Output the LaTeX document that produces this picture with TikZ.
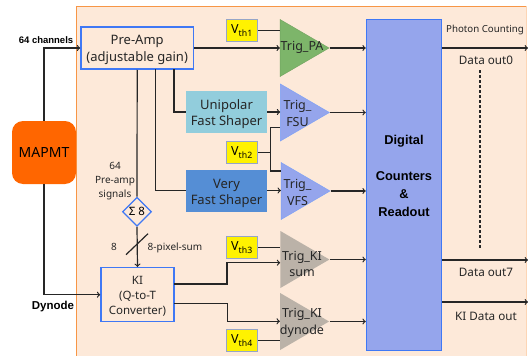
\documentclass[tikz,border=0pt]{standalone}
\usepackage{fontspec}
\setmainfont{Noto Sans}
\newfontfamily\labelbold{Liberation Sans}
\usetikzlibrary{shapes.geometric}

\definecolor{panelbg}{HTML}{FDE9D9}
\definecolor{panelline}{HTML}{F79646}
\definecolor{boxblue}{HTML}{3F78F5}
\definecolor{vthline}{HTML}{95A5C8}
\definecolor{digitalfill}{HTML}{95A5EC}
\definecolor{unipolarfill}{HTML}{92CDDC}
\definecolor{veryfastfill}{HTML}{558ED5}
\definecolor{mapmtfill}{HTML}{FF6600}
\definecolor{trigpafill}{HTML}{7DB56A}
\definecolor{trigbluefill}{HTML}{95A5EC}
\definecolor{triggreyfill}{HTML}{BBB2A8}

\newcommand{\vth}[1]{V\textsubscript{th#1}}
\newcommand{\fs}[1]{\fontsize{#1}{#1}\selectfont}

\tikzset{
  signal/.style={draw=black!85,line width=1.2pt},
  signalarrow/.style={signal,->},
  bluebox/.style={draw=boxblue,line width=1.5pt,fill=panelbg,inner sep=0pt},
  shaperbox/.style={inner sep=0pt,minimum width=81pt,minimum height=42pt},
  boxlabel/.style={align=center,inner sep=0pt,font=\fs{13},text=black!85},
  vthbox/.style={draw=vthline,line width=0.8pt,fill=yellow,inner sep=0pt,font=\fs{12.5},minimum width=31pt,minimum height=22pt},
  trigamp/.style={isosceles triangle,isosceles triangle stretches,shape border rotate=0,inner sep=0pt,minimum width=57pt,minimum height=49pt},
  triglabel/.style={align=center,inner sep=0pt,font=\fs{12.5},text=black!85},
  smalllabel/.style={align=center,inner sep=0pt,font=\fs{10},text=black!85},
  datalabel/.style={inner sep=0pt,font=\fs{11.7},text=black!85},
  boldlabel/.style={inner sep=0pt}
}

\begin{document}
\begin{tikzpicture}[x=1pt,y=-1pt]
\useasboundingbox (0,0) rectangle (528,356);

\fill[panelbg] (76.5,6) rectangle (527,356);
\draw[panelline,line width=0.9pt] (76.5,356) -- (76.5,6) -- (526,6);
\draw[panelline!40,line width=0.9pt] (526,6) -- (526,356);

\node[shaperbox,fill=unipolarfill] (unipolar) at (226.5,112) {};
\node[boxlabel] (unipolartext) at (226.5,114.5) {Unipolar\\[3pt]Fast Shaper};
\node[shaperbox,fill=veryfastfill] (veryfast) at (226.5,190.5) {};
\node[boxlabel] (veryfasttext) at (226.5,193.5) {Very\\[3pt]Fast Shaper};
\node[bluebox,minimum width=112.5pt,minimum height=42pt] (preamp) at (137.2,48) {};
\node[boxlabel] (preamptext) at (137.2,50) {Pre-Amp\\[4pt](adjustable gain)};
\node[bluebox,minimum width=73pt,minimum height=54pt] (ki) at (137.5,294.7) {};
\node[boxlabel,font=\fs{11.5}] (kitext) at (137.5,296.5) {KI\\[3.5pt](Q-to-T\\[3.5pt]Converter)};
\node[bluebox,line width=1.3pt,diamond,aspect=1,minimum width=29pt,minimum height=29pt,font=\fs{11.5}] (sum) at (137,211.7) {Σ 8};
\node[fill=mapmtfill,rounded corners=11pt,inner sep=0pt,minimum width=64pt,minimum height=63pt,font=\fs{14}] (mapmt) at (44,152.5) {MAPMT};
\node[draw=boxblue,line width=1.5pt,fill=digitalfill,inner sep=0pt,minimum width=75pt,minimum height=331pt] (digital) at (404,185) {};
\node[align=center,inner sep=0pt,font=\labelbold\bfseries\fs{12.8}] (digitaltext) at (404,176) {Digital\\[23pt]Counters\\[5pt]\&\\[5pt]Readout};

\node[vthbox] (vth1) at (242,30.5) {\vth{1}};
\node[vthbox] (vth2) at (242,152.5) {\vth{2}};
\node[vthbox] (vth3) at (242,247.5) {\vth{3}};
\node[vthbox] (vth4) at (242,340.5) {\vth{4}};

\node[trigamp,fill=trigpafill,draw=trigpafill!90!black] (trigpa) at (296.5,48) {};
\node[trigamp,fill=trigbluefill,draw=boxblue!70] (trigfsu) at (296.8,112.5) {};
\node[trigamp,fill=trigbluefill,draw=boxblue!70] (trigvfs) at (297.5,191) {};
\node[trigamp,fill=triggreyfill] (trigsum) at (296.8,259.5) {};
\node[trigamp,fill=triggreyfill] (trigdyn) at (296.5,321.5) {};

\node[triglabel] (trigpatext) at (302,47.5) {Trig\_PA};
\node[triglabel] (trigfsutext) at (297.5,113.5) {Trig\_\\[4pt]FSU};
\node[triglabel] (trigvfstext) at (297.5,192.5) {Trig\_\\[4pt]VFS};
\node[triglabel] (trigsumtext) at (302,264) {Trig\_KI\\[4pt]sum};
\node[triglabel] (trigdyntext) at (302,323) {Trig\_KI\\[4pt]dynode};

\draw[signalarrow] (mapmt.north) -- (mapmt.north |- preamp.west) -- (preamp.west);
\draw[signalarrow] (mapmt.south) -- (mapmt.south |- ki.west) -- (ki.west);

\draw[signalarrow] (preamp.east) -- (preamp.east -| trigpa.lower side);
\draw[signal] (vth1.east) -- (vth1.east -| trigpa.lower side);
\draw[signalarrow] (trigpa.apex) -- (trigpa.apex -| digital.west);

\draw[signal] (174,69) |- (unipolar.west);
\draw[signal] (155.5,69) |- (veryfast.west);
\draw[signal] (preamp.south) -- (sum.north);
\draw[signalarrow] (sum.south) -- (ki.north);
\coordinate (slashlow) at (126,254.7);
\coordinate (slashhigh) at (148,233.7);
\draw[signal] (slashlow) -- (slashhigh);

\draw[signalarrow] (unipolar.east) -- (unipolar.east -| trigfsu.lower side);
\draw[signalarrow] (veryfast.east) -- (veryfast.east -| trigvfs.lower side);
\draw[signalarrow] (trigfsu.apex) -- (trigfsu.apex -| digital.west);
\draw[signalarrow] (trigvfs.apex) -- (trigvfs.apex -| digital.west);

\coordinate (vth2fork) at (270.5,152.5);
\draw[signal] (vth2.east) -- (vth2fork);
\draw[signal] (trigfsu.lower side |- 0,127.5) -| (vth2fork) |- (trigvfs.lower side |- 0,171);

\draw[signal] (vth3.east) -- (vth3.east -| trigsum.lower side);
\draw[signal] (vth4.east) -- (vth4.east -| trigdyn.lower side);
\draw[signalarrow] (174,284) -- (227,284) -- (227,262.7) -- (trigsum.lower side |- 0,262.7);
\draw[signalarrow] (174,303.7) -- (227.5,303.7) -- (227.5,321.3) -- (trigdyn.lower side |- 0,321.3);
\draw[signalarrow] (trigsum.apex) -- (trigsum.apex -| digital.west);
\draw[signalarrow] (trigdyn.apex) -- (trigdyn.apex -| digital.west);

\coordinate (out0) at (528,48);
\coordinate (out7) at (528,260);
\coordinate (outki) at (528,302);
\draw[signalarrow] (out0 -| digital.east) -- (out0);
\draw[signalarrow] (out7 -| digital.east) -- (out7);
\draw[signalarrow] (outki -| digital.east) -- (outki);
\coordinate (dashtop) at (480,70);
\coordinate (dashbottom) at (480,248);
\draw[signal,dash pattern=on 3pt off 2pt] (dashtop) -- (dashbottom);

\node[boldlabel,font=\labelbold\bfseries\fs{9.5}] (channels) at (46,40) {64 channels};
\node[boldlabel,font=\labelbold\bfseries\fs{11.5}] (dynode) at (53,307) {Dynode};
\node[smalllabel] (presignals) at (115,181) {64\\[4pt]Pre-amp\\[4pt]signals};
\node[smalllabel] (eight) at (114,247) {8};
\node[smalllabel] (pixelsum) at (175,247.5) {8-pixel-sum};
\node[smalllabel,font=\fs{9.7}] (photon) at (485,30) {Photon Counting};
\node[datalabel] (data0) at (486,60) {Data out0};
\node[datalabel] (data7) at (486,272) {Data out7};
\node[datalabel] (dataki) at (486,316) {KI Data out};
\end{tikzpicture}
\end{document}
